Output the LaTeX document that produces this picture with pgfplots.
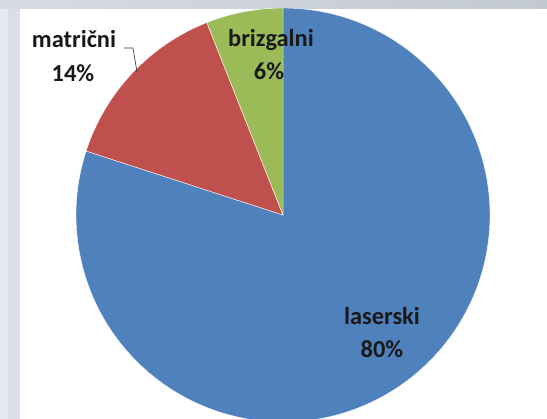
\documentclass[border=0pt]{standalone}
\usepackage{pgfplots}
\pgfplotsset{compat=1.18}
\usepackage{pgfplotstable}
\usepackage{fontspec}
\setmainfont{Carlito}

\definecolor{slice0}{HTML}{4F81BD}
\definecolor{slice1}{HTML}{C0504D}
\definecolor{slice2}{HTML}{9BBB59}
\definecolor{bandL}{HTML}{D9DEE8}
\definecolor{bandLL}{HTML}{E6E9EF}
\definecolor{topA}{HTML}{D6DBE4}
\definecolor{topB}{HTML}{C3C9D2}

% share of each printer type, in percent
\pgfplotstableread{
label pct
laserski 80
matrični 14
brizgalni 6
}\piedata

% slices run clockwise from 12 o'clock
\def\startangle{90}
\pgfplotsforeachungrouped \i in {0,1,2}{%
  \pgfplotstablegetelem{\i}{pct}\of\piedata
  \pgfmathsetmacro\endangle{\startangle-3.6*\pgfplotsretval}%
  \expandafter\xdef\csname sa\i\endcsname{\startangle}%
  \expandafter\xdef\csname ea\i\endcsname{\endangle}%
  \xdef\startangle{\endangle}%
}

\begin{document}
\begin{tikzpicture}
\begin{axis}[
  scale only axis,
  width=547bp, height=419bp,
  xmin=0, xmax=547, ymin=0, ymax=419,
  hide axis,
]
% page background
\fill[white] (axis cs:0,0) rectangle (axis cs:547,419);
\fill[bandLL] (axis cs:0,0) rectangle (axis cs:8,419);
\fill[bandL] (axis cs:8,0) rectangle (axis cs:20,419);
\shade[left color=topA, right color=topB] (axis cs:0,410) rectangle (axis cs:547,419);

% pie
\pgfplotsinvokeforeach{0,1,2}{
  \fill[slice#1, draw=white, line width=0.4pt]
    (axis cs:283,204) -- ++(\csname sa#1\endcsname:207bp)
    arc[start angle=\csname sa#1\endcsname, end angle=\csname ea#1\endcsname, radius=207bp]
    -- cycle;
}

% labels
\begin{scope}[font=\fontsize{24.5}{27}\selectfont\bfseries, text=black!90]
\node[anchor=base] at (axis cs:74,371) {matrični};
\node[anchor=base] at (axis cs:73,337) {14\%};
\node[anchor=base] at (axis cs:271,372) {brizgalni};
\node[anchor=base] at (axis cs:269,339) {6\%};
\node[anchor=base] at (axis cs:382,94) {laserski};
\node[anchor=base] at (axis cs:382,61) {80\%};
\end{scope}
\draw[black!80, line width=0.6pt] (axis cs:124,371) -- (axis cs:133,371) -- (axis cs:137,347);
\end{axis}
\end{tikzpicture}
\end{document}
